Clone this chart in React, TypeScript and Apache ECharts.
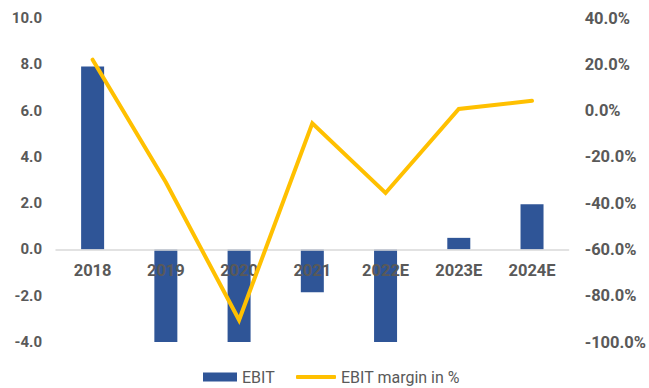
import React, { useEffect, useRef } from "react";
import * as echarts from "echarts";

const categories = ["2018", "2019", "2020", "2021", "2022E", "2023E", "2024E"];
const ebit = [7.9, -4.0, -4.0, -1.85, -4.0, 0.5, 1.95];
const ebitMargin = [22.0, -31.0, -90.5, -5.5, -35.6, 0.7, 4.2];

const LEFT_MIN = -4;
const LEFT_MAX = 10;
const GRID_TOP = 18;
const GRID_BOTTOM = 46;
const HEIGHT = 388;

export default function App() {
  const ref = useRef<HTMLDivElement>(null);
  useEffect(() => {
    if (!ref.current) return;
    const chart = echarts.init(ref.current, null, { renderer: "svg" });
    const labelStyle = {
      color: "#595959",
      fontFamily: "Roboto",
      fontWeight: "bold" as const,
      fontSize: 15,
    };
    const legendText = { color: "#595959", fontFamily: "Roboto", fontSize: 16, lineHeight: 18 };
    const plotH = HEIGHT - GRID_TOP - GRID_BOTTOM;
    const zeroOffset = -(plotH * (0 - LEFT_MIN)) / (LEFT_MAX - LEFT_MIN);
    chart.setOption({
      animation: false,
      grid: { left: 56, right: 77, top: GRID_TOP, bottom: GRID_BOTTOM, containLabel: false },
      legend: [
        {
          left: 203,
          top: 368,
          padding: 0,
          itemWidth: 34,
          itemHeight: 9,
          textStyle: legendText,
          data: [{ name: "EBIT", icon: "rect" }],
        },
        {
          left: 296,
          top: 368,
          padding: 0,
          itemWidth: 40,
          itemHeight: 4,
          textStyle: legendText,
          data: [{ name: "EBIT margin in %", icon: "roundRect" }],
        },
      ],
      xAxis: {
        type: "category",
        data: categories,
        position: "bottom",
        offset: zeroOffset,
        z: 10,
        axisLine: { onZero: false, lineStyle: { color: "#d9d9d9", width: 1.5 } },
        axisTick: { show: false },
        axisLabel: { ...labelStyle, fontSize: 16.5, margin: 13 },
      },
      yAxis: [
        {
          type: "value",
          min: LEFT_MIN,
          max: LEFT_MAX,
          interval: 2,
          splitLine: { show: false },
          axisLine: { show: false },
          axisTick: { show: false },
          axisLabel: { ...labelStyle, margin: 14, formatter: (v: number) => v.toFixed(1) },
        },
        {
          type: "value",
          min: -100,
          max: 40,
          interval: 20,
          splitLine: { show: false },
          axisLine: { show: false },
          axisTick: { show: false },
          axisLabel: { ...labelStyle, fontSize: 16.5, margin: 16, formatter: (v: number) => v.toFixed(1) + "%" },
        },
      ],
      series: [
        {
          name: "EBIT",
          type: "bar",
          data: ebit,
          barWidth: 23,
          z: 2,
          itemStyle: { color: "#2F5597" },
        },
        {
          name: "EBIT margin in %",
          type: "line",
          yAxisIndex: 1,
          data: ebitMargin,
          symbol: "none",
          z: 20,
          lineStyle: { color: "#FFC000", width: 4, cap: "round", join: "miter" },
          itemStyle: { color: "#FFC000" },
        },
      ],
    });
    return () => chart.dispose();
  }, []);
  return <div ref={ref} style={{ width: 649, height: 388, position: "absolute", left: 0, top: 0 }} />;
}
